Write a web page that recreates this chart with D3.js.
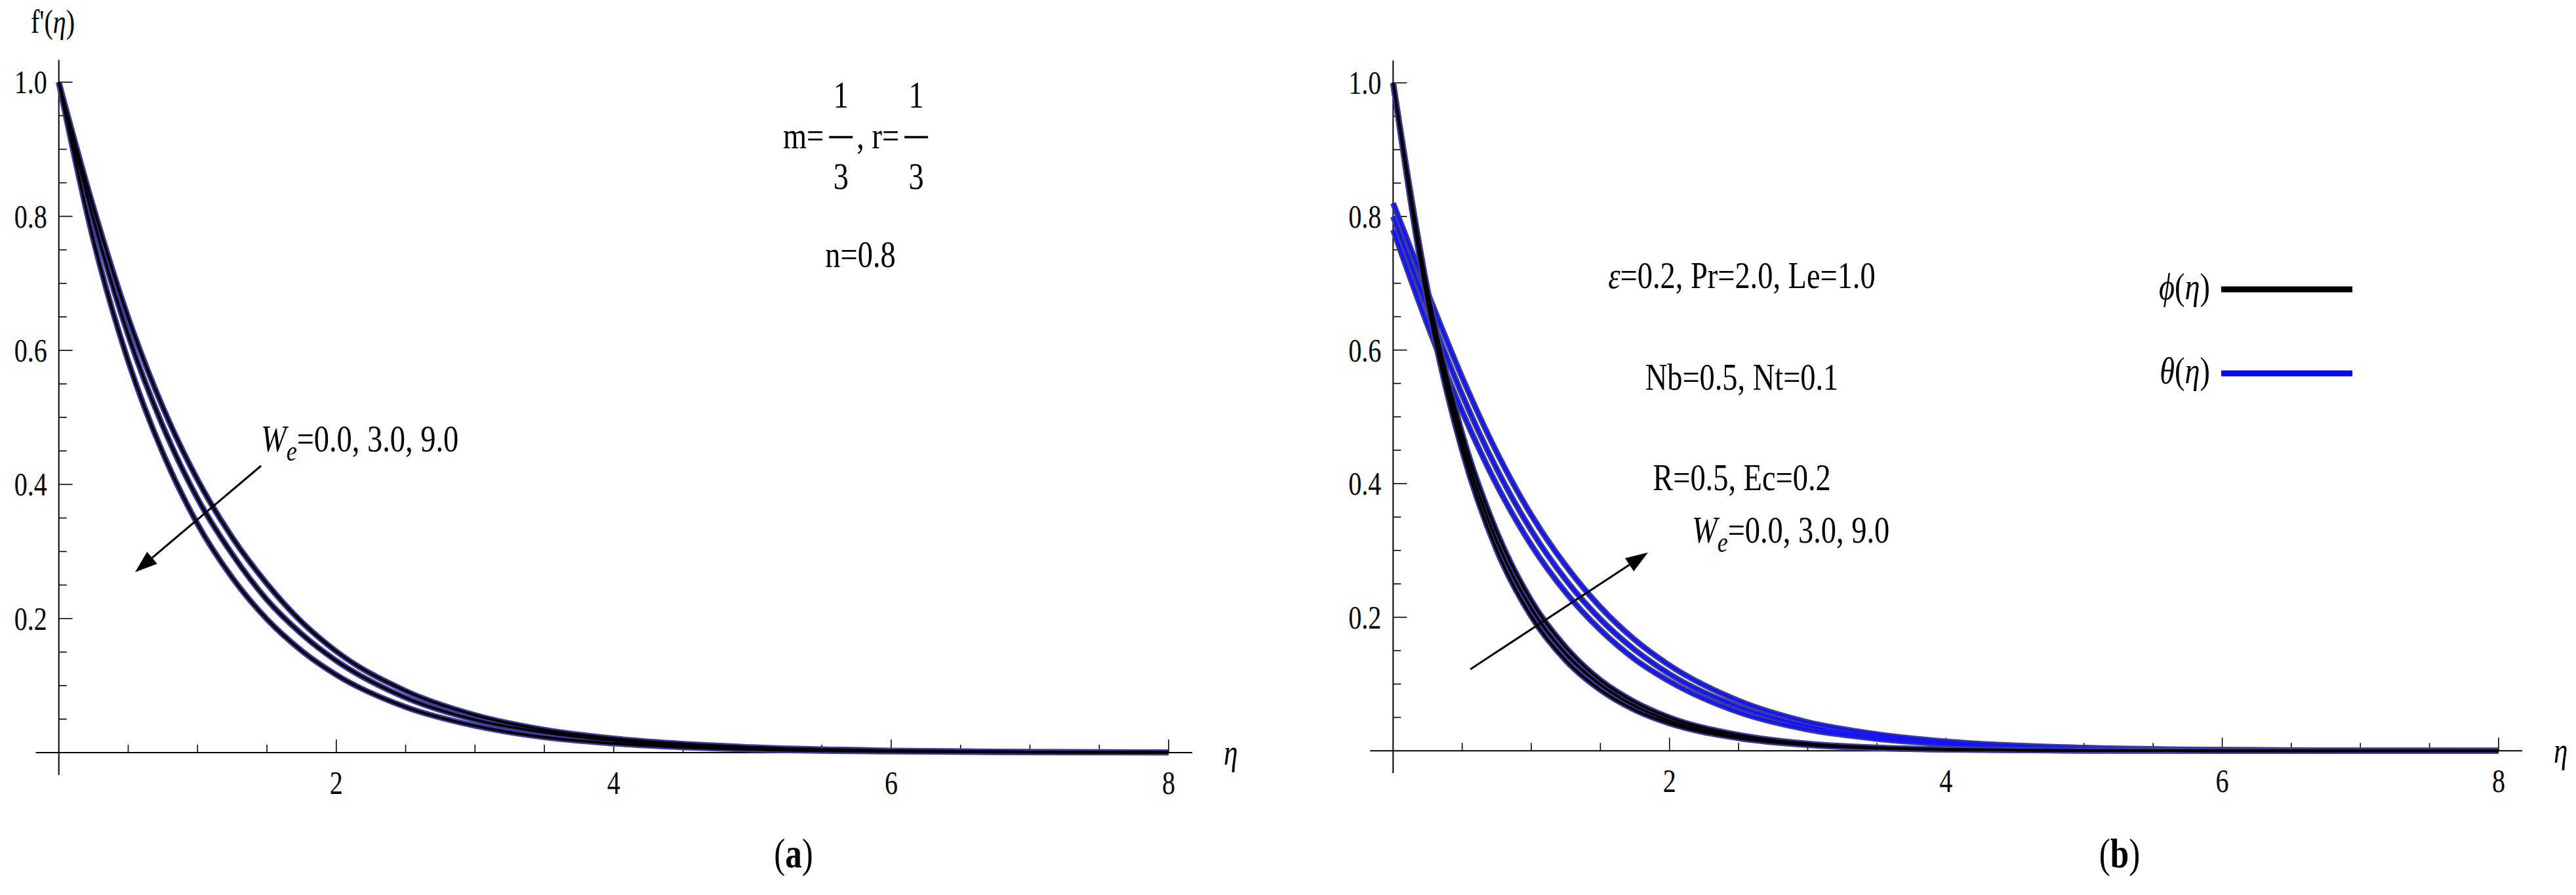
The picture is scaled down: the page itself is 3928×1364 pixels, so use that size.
<!DOCTYPE html>
<html>
<head>
<meta charset="utf-8">
<script src="https://cdn.jsdelivr.net/npm/d3@7/dist/d3.min.js"></script>
<style>
  body { margin: 0; background: #fff; }
  svg text { font-family: "Liberation Serif", "Times New Roman", serif; fill: #000; }
</style>
</head>
<body>
<svg id="chart" width="3928" height="1364"></svg>
<script>
// eta grid shared by every curve
var etaGrid = [0, 0.25, 0.5, 0.75, 1, 1.25, 1.5, 1.75, 2, 2.5, 3, 3.5, 4, 5, 6, 7, 8];

// panel (a): f'(eta) for We = 0.0, 3.0, 9.0
var fpWe0 = [1.0, 0.813, 0.649, 0.515, 0.407, 0.321, 0.252, 0.195, 0.151, 0.092, 0.056, 0.034, 0.021, 0.008, 0.003, 0.0011, 0.0004];
var fpWe3 = [1.0, 0.795, 0.623, 0.487, 0.379, 0.296, 0.228, 0.177, 0.137, 0.082, 0.049, 0.030, 0.018, 0.0067, 0.0025, 0.0009, 0.0003];
var fpWe9 = [1.0, 0.764, 0.584, 0.447, 0.341, 0.261, 0.199, 0.152, 0.116, 0.068, 0.040, 0.023, 0.0136, 0.0046, 0.0016, 0.0005, 0.0002];

// panel (b): phi(eta) and theta(eta) for We = 0.0, 3.0, 9.0
var phiWe0 = [1.0, 0.670, 0.449, 0.300, 0.201, 0.135, 0.091, 0.061, 0.041, 0.019, 0.0086, 0.0040, 0.0018, 0.0004, 0.0001, 0, 0];
var phiWe3 = [1.0, 0.680, 0.462, 0.314, 0.213, 0.145, 0.099, 0.067, 0.045, 0.021, 0.0096, 0.0044, 0.0020, 0.0004, 0.0001, 0, 0];
var phiWe9 = [1.0, 0.690, 0.475, 0.328, 0.225, 0.155, 0.106, 0.073, 0.050, 0.024, 0.0108, 0.0049, 0.0023, 0.0005, 0.0001, 0, 0];
var thetaWe0 = [0.780, 0.637, 0.508, 0.398, 0.308, 0.237, 0.181, 0.137, 0.104, 0.058, 0.032, 0.018, 0.010, 0.0030, 0.0009, 0.0003, 0.0001];
var thetaWe3 = [0.800, 0.662, 0.533, 0.422, 0.330, 0.256, 0.197, 0.151, 0.115, 0.066, 0.037, 0.021, 0.012, 0.0038, 0.0012, 0.0004, 0.0001];
var thetaWe9 = [0.820, 0.686, 0.559, 0.447, 0.353, 0.277, 0.215, 0.166, 0.128, 0.075, 0.043, 0.025, 0.014, 0.0046, 0.0015, 0.0005, 0.0002];

var yMajor = [0.2, 0.4, 0.6, 0.8, 1.0];
var xMajor = [2, 4, 6, 8];
var weLabel = "=0.0, 3.0, 9.0";

var svg = d3.select("#chart");
var edge = "#3c3c9c";
var squeeze = 0.8;   // the original serif is narrower than Times

// text drawn with a horizontal squeeze
function ttext(parent, x, y, size, anchor) {
  return parent.append("text")
      .attr("transform", "translate(" + x + "," + y + ") scale(" + squeeze + ",1)")
      .attr("text-anchor", anchor || "start")
      .style("font-size", size + "px");
}

function makePanel(opt) {
  var x = d3.scaleLinear().domain([0, 8]).range([opt.x0, opt.x8]);
  var y = d3.scaleLinear().domain([0, 1]).range([opt.y0, opt.y1]);
  var g = svg.append("g");

  // minor + major ticks on x
  var xMinor = d3.range(1, 17).map(function(i) { return i * 0.5; });
  g.selectAll(".xt").data(xMinor).enter().append("line")
      .attr("x1", function(d) { return x(d); })
      .attr("x2", function(d) { return x(d); })
      .attr("y1", opt.y0)
      .attr("y2", function(d) { return opt.y0 - (d % 2 === 0 ? 20 : 12); })
      .attr("stroke", "#000").attr("stroke-width", 1.6);

  var yMinor = d3.range(1, 21).map(function(i) { return i * 0.05; });
  g.selectAll(".yt").data(yMinor).enter().append("line")
      .attr("y1", function(d) { return y(d); })
      .attr("y2", function(d) { return y(d); })
      .attr("x1", opt.x0)
      .attr("x2", function(d) { return opt.x0 + (Math.abs(d * 5 - Math.round(d * 5)) < 1e-6 ? 21 : 12); })
      .attr("stroke", "#000").attr("stroke-width", 1.6);

  // axes lines
  g.append("line").attr("x1", opt.x0 - 35).attr("x2", x(8) + 36)
      .attr("y1", opt.y0).attr("y2", opt.y0).attr("stroke", "#000").attr("stroke-width", 2);
  g.append("line").attr("x1", opt.x0).attr("x2", opt.x0)
      .attr("y1", opt.y1 - 34).attr("y2", opt.y0 + 34).attr("stroke", "#000").attr("stroke-width", 2);

  // tick labels
  xMajor.forEach(function(d) {
    ttext(g, x(d), opt.y0 + 63, 50, "middle").text(d);
  });
  yMajor.forEach(function(d) {
    ttext(g, opt.x0 - 18, y(d) + 17, 50, "end").text(d.toFixed(1));
  });

  // eta label
  ttext(g, x(8) + 84, opt.y0 + 18, 54).style("font-style", "italic").text("η");

  return { x: x, y: y, g: g };
}

function drawCurves(p, series, inner) {
  var line = d3.line()
      .x(function(d, i) { return p.x(etaGrid[i]); })
      .y(function(d) { return p.y(d); })
      .curve(d3.curveMonotoneX);
  series.forEach(function(s) {
    p.g.append("path").datum(s).attr("d", line)
        .attr("fill", "none").attr("stroke", edge).attr("stroke-width", 9);
  });
  series.forEach(function(s) {
    p.g.append("path").datum(s).attr("d", line)
        .attr("fill", "none").attr("stroke", inner).attr("stroke-width", 4);
  });
}

function weText(parent, xx, yy) {
  var t = ttext(parent, xx, yy, 58);
  t.append("tspan").style("font-style", "italic").text("W");
  t.append("tspan").style("font-style", "italic").style("font-size", "45px").attr("dy", 14).text("e");
  t.append("tspan").attr("dy", -14).text(weLabel);
}

function arrow(parent, x1, y1, x2, y2) {
  var ang = Math.atan2(y2 - y1, x2 - x1);
  var L = 34, W = 12;
  var bx = x2 - L * Math.cos(ang), by = y2 - L * Math.sin(ang);
  parent.append("line").attr("x1", x1).attr("y1", y1).attr("x2", bx).attr("y2", by)
      .attr("stroke", "#000").attr("stroke-width", 3);
  parent.append("path")
      .attr("d", "M" + x2 + "," + y2 +
        "L" + (bx + W * Math.sin(ang)) + "," + (by - W * Math.cos(ang)) +
        "L" + (bx - W * Math.sin(ang)) + "," + (by + W * Math.cos(ang)) + "Z")
      .attr("fill", "#000");
}

// ---------- panel (a)
var pa = makePanel({ x0: 89.7, x8: 1782, y0: 1147, y1: 125.3 });
drawCurves(pa, [fpWe0, fpWe3, fpWe9], "#000");

var fl = ttext(svg, 47, 50, 50);
fl.append("tspan").text("f'(");
fl.append("tspan").style("font-style", "italic").text("η");
fl.append("tspan").text(")");

// m = 1/3, r = 1/3 with stacked fractions
(function() {
  var base = 226, fs = 58;
  var cx = 1194;
  function txt(s, xx, yy, anchor) {
    var t = ttext(svg, xx, yy, fs, anchor).text(s);
    return t.node().getComputedTextLength() * squeeze;
  }
  function frac(xx) {
    var w = 48;
    svg.append("line").attr("x1", xx + 6).attr("x2", xx + w - 6)
        .attr("y1", base - 17).attr("y2", base - 17).attr("stroke", "#000").attr("stroke-width", 3.5);
    txt("1", xx + w / 2, base - 62, "middle");
    txt("3", xx + w / 2, base + 62, "middle");
    return w;
  }
  cx += txt("m=", cx, base) + 2;
  cx += frac(cx);
  cx += txt(", r=", cx, base) + 2;
  frac(cx);
  txt("n=0.8", 1312, 407, "middle");
})();

weText(svg, 398, 688);
arrow(svg, 398, 710, 206, 872);

ttext(svg, 1210, 1322, 64, "middle").html("(<tspan font-weight='bold'>a</tspan>)");

// ---------- panel (b)
var pb = makePanel({ x0: 2124.3, x8: 3810, y0: 1144.3, y1: 126.3 });
drawCurves(pb, [thetaWe0, thetaWe3, thetaWe9], "#1414f5");
drawCurves(pb, [phiWe0, phiWe3, phiWe9], "#000");

var notes = [
  { y: 439, parts: [["ε", true], ["=0.2, Pr=2.0, Le=1.0", false]] },
  { y: 594, parts: [["Nb=0.5, Nt=0.1", false]] },
  { y: 747, parts: [["R=0.5, Ec=0.2", false]] }
];
notes.forEach(function(n) {
  var t = ttext(svg, 2656, n.y, 58, "middle");
  n.parts.forEach(function(p) {
    t.append("tspan").style("font-style", p[1] ? "italic" : "normal").text(p[0]);
  });
});

var legend = [
  { sym: "ϕ", color: "#000", y: 456 },
  { sym: "θ", color: "#0a0aee", y: 584 }
];
legend.forEach(function(l) {
  var t = ttext(svg, 3370, l.y, 58, "end");
  t.append("tspan").style("font-style", "italic").text(l.sym);
  t.append("tspan").text("(");
  t.append("tspan").style("font-style", "italic").text("η");
  t.append("tspan").text(")");
  svg.append("line").attr("x1", 3387).attr("x2", 3587).attr("y1", l.y - 15).attr("y2", l.y - 15)
      .attr("stroke", l.color).attr("stroke-width", 9);
});

weText(svg, 2580, 827);
arrow(svg, 2242, 1020, 2513, 842);

ttext(svg, 3232, 1322, 64, "middle").html("(<tspan font-weight='bold'>b</tspan>)");
</script>
</body>
</html>
